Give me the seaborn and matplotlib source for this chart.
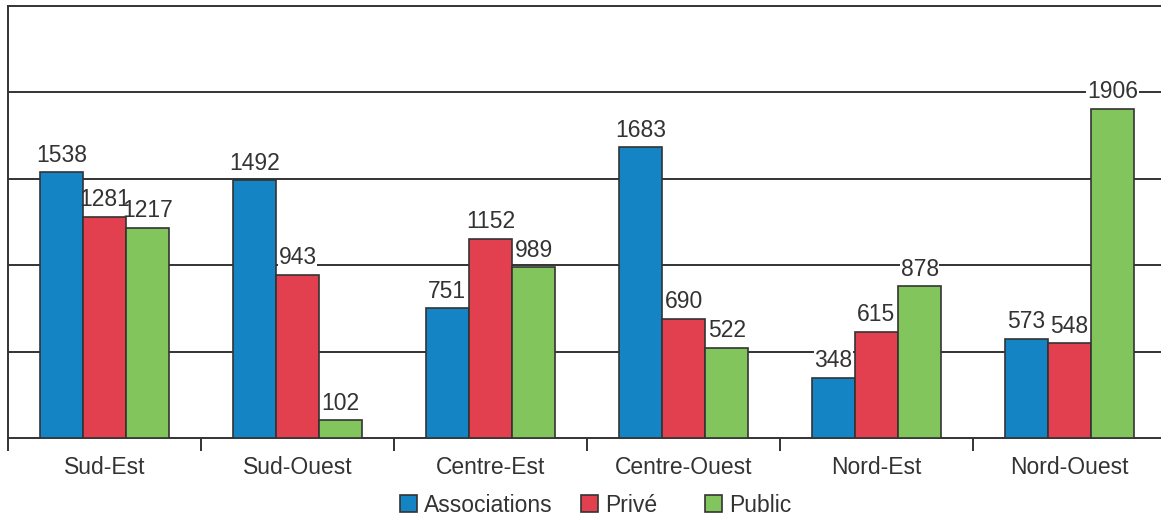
import matplotlib
matplotlib.use("Agg")
import matplotlib.pyplot as plt
import seaborn as sns
import pandas as pd
import numpy as np

regions = ["Sud-Est", "Sud-Ouest", "Centre-Est", "Centre-Ouest", "Nord-Est", "Nord-Ouest"]
series = ["Associations", "Privé", "Public"]
associations = [1538, 1492, 751, 1683, 348, 573]
prive = [1281, 943, 1152, 690, 615, 548]
public = [1217, 102, 989, 522, 878, 1906]
colors = ["#1584C5", "#E3404F", "#81C55C"]

rows = []
for name, vals in zip(series, [associations, prive, public]):
    for r, v in zip(regions, vals):
        rows.append({"Région": r, "Secteur": name, "Valeur": v})
df = pd.DataFrame(rows)

sns.set_theme(style="white")
plt.rcParams["font.family"] = ["Liberation Sans", "DejaVu Sans"]
dark = "#333333"
fs = 16.5

fig = plt.figure(figsize=(11.61, 5.22), dpi=100)
ax = fig.add_axes([8 / 1161, 1 - 438 / 522, 1158 / 1161, (438 - 6) / 522])

sns.barplot(data=df, x="Région", y="Valeur", hue="Secteur", order=regions,
            hue_order=series, palette=colors, width=0.67, saturation=1,
            edgecolor=dark, linewidth=1.2, ax=ax, zorder=3)

ax.set_ylim(0, 2500)
ax.set_xlim(-0.5, len(regions) - 0.5)
ax.set_yticks([500, 1000, 1500, 2000])
ax.set_yticklabels([])
ax.yaxis.grid(True, color=dark, linewidth=1.4)
ax.set_axisbelow(True)
ax.tick_params(axis="y", length=0)

ax.set_xticks(np.arange(len(regions)))
ax.set_xticklabels(regions, fontsize=fs, color=dark)
ax.set_xticks(np.arange(len(regions) + 1) - 0.5, minor=True)
ax.tick_params(axis="x", which="major", length=0, pad=13)
ax.tick_params(axis="x", which="minor", length=9, width=1.4, color=dark,
               direction="out", bottom=True)

ax.set_xlabel("")
ax.set_ylabel("")
for side in ["left", "top", "bottom"]:
    ax.spines[side].set_visible(True)
    ax.spines[side].set_color(dark)
    ax.spines[side].set_linewidth(1.4)
ax.spines["right"].set_visible(False)

# white boxes behind bars (cut gridlines), readable text in front
for cont in ax.containers:
    backs = ax.bar_label(cont, padding=4, fontsize=fs, color="white",
                         bbox=dict(facecolor="white", edgecolor="none", pad=0.5))
    for t in backs:
        t.set_zorder(2)
    fronts = ax.bar_label(cont, padding=4, fontsize=fs, color=dark)
    for t in fronts:
        t.set_zorder(4)

handles, labels = ax.get_legend_handles_labels()
ax.get_legend().remove()
legend_x = [400, 581, 705]
for h, lab, x in zip(handles, labels, legend_x):
    lg = fig.legend([h], [lab], loc="center left",
                    bbox_to_anchor=(x / 1161, 1 - 505 / 522),
                    frameon=False, fontsize=fs, handlelength=0.75,
                    handleheight=0.75, handletextpad=0.3, borderpad=0,
                    borderaxespad=0, labelcolor=dark)

fig.savefig("out.png", dpi=100)
